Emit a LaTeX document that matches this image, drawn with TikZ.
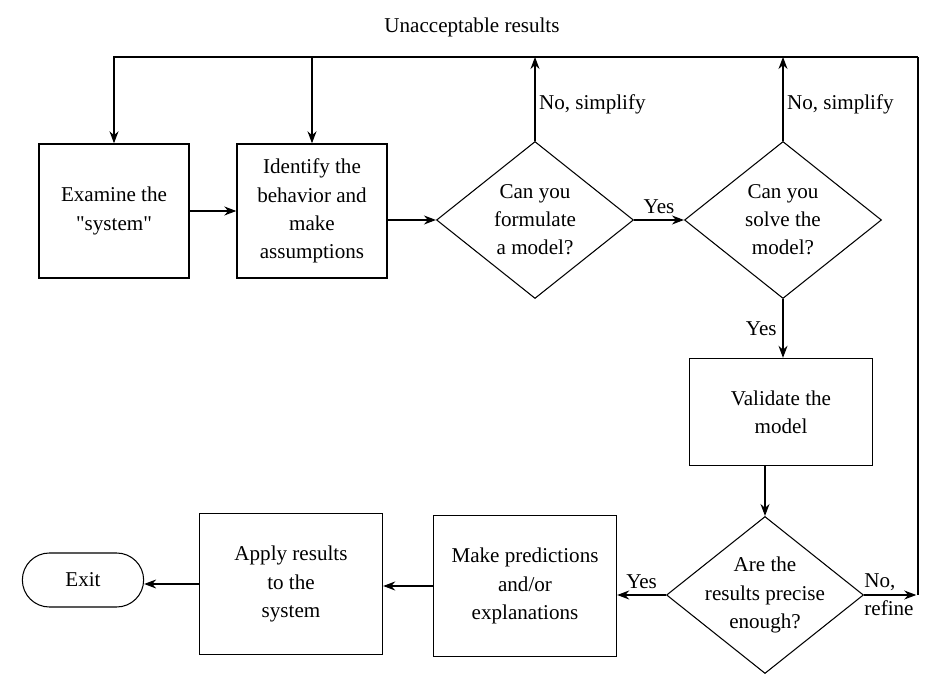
\documentclass[tikz,border=0pt]{standalone}
\usepackage{fontspec}
\setmainfont{Liberation Serif}
\usetikzlibrary{shapes.geometric, shapes.misc, arrows.meta}
\tikzstyle{process} = [rectangle, draw, thick, align=center, minimum width=3.66cm, minimum height=2.82cm]
\tikzstyle{decision} = [diamond, draw, semithick, align=center, inner sep=0pt, inner xsep=-4mm, shape aspect=1.25, minimum width=3.94cm, minimum height=3.14cm]
\tikzstyle{terminal} = [rounded rectangle, draw, semithick, minimum width=2.66cm, minimum height=1.08cm]
\tikzstyle{arrow} = [semithick,->,>={Stealth[length=2.4mm,width=1.8mm]}]

\begin{document}
\begin{tikzpicture}[font=\fontsize{12}{16}\selectfont]
            \useasboundingbox (0,0) rectangle (18.9,-13.66);
            \node (title) at (9.44,-0.54) {Unacceptable results};
            \coordinate (topR) at (18.36,-1.14);
            
            \node (exam) [process, minimum width=3cm, minimum height=2.68cm] at (2.28,-4.22) {Examine the\\\textquotedbl system\textquotedbl};
            \node (ident) [process, minimum width=3cm, minimum height=2.68cm] at (6.24,-4.22) {Identify the\\behavior and\\make\\assumptions};
            \node (form) [decision] at (10.7,-4.4) {Can you\\formulate\\a model?};
            \node (solve) [decision] at (15.66,-4.4) {Can you\\solve the\\model?};
            
            \node (valid) [process, minimum height=2.14cm] at (15.62,-8.24) {Validate the\\model};
            \node (prec) [decision] at (15.3,-11.9) {Are the\\results precise\\enough?};
            \node (pred) [process] at (10.5,-11.72) {Make predictions\\and/or\\explanations};
            \node (apply) [process] at (5.82,-11.68) {Apply results\\to the\\system};
            \node (exit) [terminal] at (1.66,-11.6) {Exit};
            \coordinate (ret) at (prec.east -| topR);
            
            \draw [arrow] (exam) -- (ident);
            \draw [arrow] (form.west -| ident.east) -- (form.west);
            \draw [arrow] (form) -- (solve) node[midway, above] {Yes};
            \draw [arrow] (form.north) -- (form.north |- topR) node[pos=0.44, right, inner sep=2pt] {No, simplify};
            \draw [arrow] (solve.north) -- (solve.north |- topR) node[pos=0.44, right, inner sep=2pt] {No, simplify};
            \draw [arrow] (solve.south) -- (solve.south |- valid.north) node[midway, left] {Yes};
            \draw [arrow] (valid.south -| prec.north) -- (prec.north);
            
            \draw [arrow] (prec.west) -- (prec.west -| pred.east) node[midway, above] {Yes};
            \draw [arrow] (pred.west) -- (pred.west -| apply.east);
            \draw [arrow] (apply.west) -- (apply.west -| exit.east);
            
            \draw [arrow] (prec.east) -- ([xshift=-1pt]ret);
            \node (refine) [anchor=west, align=left, inner sep=0pt] at (prec.east) {No,\\refine};
            \draw [semithick] (ret) -- (topR);
            \draw [arrow] (topR) -| (exam.north);
            \draw [arrow] (ident.north |- topR) -- (ident.north);
        \end{tikzpicture}
\end{document}
